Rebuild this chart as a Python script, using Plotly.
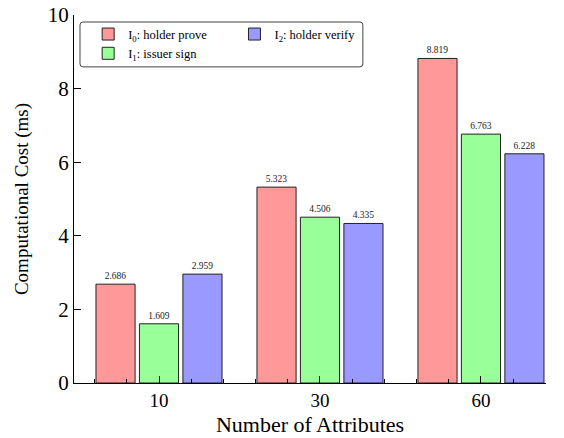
import plotly.graph_objects as go

categories = ["10", "30", "60"]
holder_prove = [2.686, 5.323, 8.819]
issuer_sign = [1.609, 4.506, 6.763]
holder_verify = [2.959, 4.335, 6.228]
series_names = ["I<sub>0</sub>: holder prove", "I<sub>1</sub>: issuer sign", "I<sub>2</sub>: holder verify"]
colors = ["#FF9999", "#99FF99", "#9999FF"]
legend_ids = ["legend", "legend", "legend2"]

xpos = list(range(len(categories)))
FONT = "Liberation Serif"

fig = go.Figure()
for name, vals, col, lg in zip(series_names, [holder_prove, issuer_sign, holder_verify], colors, legend_ids):
    fig.add_trace(go.Bar(
        x=xpos, y=vals, name=name, legend=lg,
        marker=dict(color=col, line=dict(color="#222222", width=1)),
        text=[f"{v:.3f}" for v in vals], textposition="outside",
        textfont=dict(size=9.5, family=FONT, color="#222222"),
        cliponaxis=False,
    ))

# rounded legend frame in paper coords (plot area 472 x 368 px)
x0, x1, y0, y1 = 0.0127, 0.612, 0.859, 0.981
rx, ry = 3 / 472, 3 / 368
path = (f"M {x0+rx},{y0} L {x1-rx},{y0} Q {x1},{y0} {x1},{y0+ry} "
        f"L {x1},{y1-ry} Q {x1},{y1} {x1-rx},{y1} "
        f"L {x0+rx},{y1} Q {x0},{y1} {x0},{y1-ry} "
        f"L {x0},{y0+ry} Q {x0},{y0} {x0+rx},{y0} Z")

legend_common = dict(
    orientation="v", yanchor="top", xanchor="left",
    bgcolor="rgba(0,0,0,0)", borderwidth=0,
    font=dict(size=12.5, family=FONT), tracegroupgap=0, itemwidth=30,
)

fig.update_layout(
    width=564, height=438,
    margin=dict(l=74, r=18, t=15, b=55, autoexpand=False),
    paper_bgcolor="white", plot_bgcolor="white",
    barmode="group", bargap=0.19, bargroupgap=0.1,
    font=dict(family=FONT, color="black"),
    showlegend=True,
    legend=dict(x=0.030, y=0.988, **legend_common),
    legend2=dict(x=0.340, y=0.988, **legend_common),
    shapes=[dict(type="path", path=path, xref="paper", yref="paper",
                 line=dict(color="#444444", width=1), fillcolor="rgba(0,0,0,0)")],
    xaxis=dict(
        range=[-0.528, 2.404], tickvals=xpos, ticktext=categories,
        showline=True, linecolor="black", linewidth=1.2,
        ticks="inside", ticklen=7, tickwidth=1, tickcolor="black",
        minor=dict(dtick=0.2, tick0=0, ticks="inside", ticklen=4, tickcolor="black"),
        showgrid=False, zeroline=False, automargin=False,
        tickfont=dict(size=19, family=FONT),
        title=dict(text="Number of Attributes", font=dict(size=22, family=FONT), standoff=6),
    ),
    yaxis=dict(
        range=[0, 10], tickvals=[0, 2, 4, 6, 8, 10],
        showline=True, linecolor="black", linewidth=1.2,
        ticks="inside", ticklen=7, tickwidth=1, tickcolor="black",
        showgrid=False, zeroline=False, automargin=False,
        tickfont=dict(size=21, family=FONT),
        title=dict(text="Computational Cost (ms)", font=dict(size=19, family=FONT), standoff=14),
    ),
)

fig.write_html("out.html", config={"displayModeBar": False})

# remove default page margin so the figure sits at the window's top-left corner
with open("out.html", "r", encoding="utf-8") as f:
    html = f.read()
html = html.replace("<body>", '<body style="margin:0;padding:0;overflow:hidden">', 1)
with open("out.html", "w", encoding="utf-8") as f:
    f.write(html)
